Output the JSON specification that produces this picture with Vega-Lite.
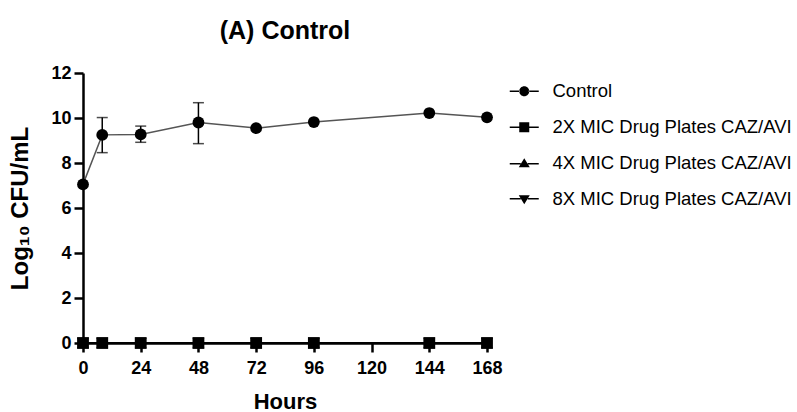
{
  "$schema": "https://vega.github.io/schema/vega-lite/v6.json",
  "width": 404,
  "height": 270,
  "autosize": "none",
  "padding": {"left": 83, "top": 73, "right": 310, "bottom": 69},
  "background": "white",
  "title": {"text": "(A) Control", "fontSize": 25, "fontWeight": "bold", "font": "Liberation Sans", "color": "black", "frame": "group", "baseline": "alphabetic", "offset": 0},
  "config": {
    "view": {"stroke": null},
    "font": "Liberation Sans",
    "axis": {
      "grid": false,
      "domainColor": "black",
      "domainWidth": 2.5,
      "tickColor": "black",
      "tickWidth": 2.5,
      "tickSize": 9,
      "labelFont": "Liberation Sans",
      "labelFontSize": 18,
      "labelFontWeight": "bold",
      "labelColor": "black",
      "labelPadding": 3,
      "titleFont": "Liberation Sans",
      "titleFontSize": 22,
      "titleFontWeight": "bold",
      "titleColor": "black"
    },
    "axisX": {"titlePadding": 14, "labelPadding": 7, "labelFlush": false},
    "axisY": {"titlePadding": 18, "titleFontSize": 24}
  },
  "data": {
    "values": [
      {"series": "8X MIC Drug Plates CAZ/AVI", "hours": 0, "value": 0},
      {"series": "8X MIC Drug Plates CAZ/AVI", "hours": 8, "value": 0},
      {"series": "8X MIC Drug Plates CAZ/AVI", "hours": 24, "value": 0},
      {"series": "8X MIC Drug Plates CAZ/AVI", "hours": 48, "value": 0},
      {"series": "8X MIC Drug Plates CAZ/AVI", "hours": 72, "value": 0},
      {"series": "8X MIC Drug Plates CAZ/AVI", "hours": 96, "value": 0},
      {"series": "8X MIC Drug Plates CAZ/AVI", "hours": 144, "value": 0},
      {"series": "8X MIC Drug Plates CAZ/AVI", "hours": 168, "value": 0},
      {"series": "4X MIC Drug Plates CAZ/AVI", "hours": 0, "value": 0},
      {"series": "4X MIC Drug Plates CAZ/AVI", "hours": 8, "value": 0},
      {"series": "4X MIC Drug Plates CAZ/AVI", "hours": 24, "value": 0},
      {"series": "4X MIC Drug Plates CAZ/AVI", "hours": 48, "value": 0},
      {"series": "4X MIC Drug Plates CAZ/AVI", "hours": 72, "value": 0},
      {"series": "4X MIC Drug Plates CAZ/AVI", "hours": 96, "value": 0},
      {"series": "4X MIC Drug Plates CAZ/AVI", "hours": 144, "value": 0},
      {"series": "4X MIC Drug Plates CAZ/AVI", "hours": 168, "value": 0},
      {"series": "2X MIC Drug Plates CAZ/AVI", "hours": 0, "value": 0},
      {"series": "2X MIC Drug Plates CAZ/AVI", "hours": 8, "value": 0},
      {"series": "2X MIC Drug Plates CAZ/AVI", "hours": 24, "value": 0},
      {"series": "2X MIC Drug Plates CAZ/AVI", "hours": 48, "value": 0},
      {"series": "2X MIC Drug Plates CAZ/AVI", "hours": 72, "value": 0},
      {"series": "2X MIC Drug Plates CAZ/AVI", "hours": 96, "value": 0},
      {"series": "2X MIC Drug Plates CAZ/AVI", "hours": 144, "value": 0},
      {"series": "2X MIC Drug Plates CAZ/AVI", "hours": 168, "value": 0},
      {"series": "Control", "hours": 0, "value": 7.05},
      {"series": "Control", "hours": 8, "value": 9.25, "lo": 8.46, "hi": 10.02},
      {"series": "Control", "hours": 24, "value": 9.27, "lo": 8.92, "hi": 9.64},
      {"series": "Control", "hours": 48, "value": 9.8, "lo": 8.86, "hi": 10.68},
      {"series": "Control", "hours": 72, "value": 9.55},
      {"series": "Control", "hours": 96, "value": 9.82},
      {"series": "Control", "hours": 144, "value": 10.22},
      {"series": "Control", "hours": 168, "value": 10.03}
    ]
  },
  "encoding": {
    "x": {"field": "hours", "type": "quantitative", "title": "Hours", "scale": {"domain": [0, 168], "nice": false}, "axis": {"values": [0, 24, 48, 72, 96, 120, 144, 168]}},
    "y": {"field": "value", "type": "quantitative", "title": "Log₁₀ CFU/mL", "scale": {"domain": [0, 12], "nice": false}, "axis": {"values": [0, 2, 4, 6, 8, 10, 12]}}
  },
  "layer": [
    {
      "transform": [{"filter": "datum.series == 'Control'"}],
      "mark": {"type": "line", "color": "#555555", "strokeWidth": 1.5},
      "encoding": {}
    },
    {
      "transform": [{"filter": "datum.series != 'Control'"}],
      "mark": {"type": "line", "color": "black", "strokeWidth": 2},
      "encoding": {"detail": {"field": "series"}}
    },
    {
      "transform": [{"filter": "datum.hi != null"}],
      "mark": {"type": "errorbar", "ticks": {"size": 11, "thickness": 1.5, "color": "black"}, "rule": {"strokeWidth": 1.5, "color": "black"}},
      "encoding": {
        "y": {"field": "lo", "type": "quantitative", "title": "Log₁₀ CFU/mL"},
        "y2": {"field": "hi"}
      }
    },
    {
      "mark": {"type": "point", "filled": true, "color": "black", "opacity": 1, "size": 140},
      "encoding": {
        "shape": {"field": "series", "type": "nominal", "legend": null,
          "scale": {"domain": ["Control", "2X MIC Drug Plates CAZ/AVI", "4X MIC Drug Plates CAZ/AVI", "8X MIC Drug Plates CAZ/AVI"],
                    "range": ["circle", "square", "triangle-up", "triangle-down"]}}
      }
    },
    {
      "mark": {"type": "point", "filled": true, "color": "black", "opacity": 0, "size": 100},
      "encoding": {
        "shape": {"field": "series", "type": "nominal",
          "scale": {"domain": ["Control", "2X MIC Drug Plates CAZ/AVI", "4X MIC Drug Plates CAZ/AVI", "8X MIC Drug Plates CAZ/AVI"],
                    "range": [
                      "M-1,0A1,1 0 1,0 1,0A1,1 0 1,0 -1,0Z M-2.9,-0.15H-0.9V0.15H-2.9Z M0.9,-0.15H2.9V0.15H0.9Z",
                      "M-1,-1H1V1H-1Z M-2.9,-0.15H-0.95V0.15H-2.9Z M0.95,-0.15H2.9V0.15H0.95Z",
                      "M0,-1L1.1,0.8H-1.1Z M-2.9,-0.05H-0.7V0.25H-2.9Z M0.7,-0.05H2.9V0.25H0.7Z",
                      "M0,1L1.1,-0.8H-1.1Z M-2.9,-0.25H-0.7V0.05H-2.9Z M0.7,-0.25H2.9V0.05H0.7Z"]},
          "legend": {
            "orient": "none", "legendX": 432, "legendY": 9, "title": null, "padding": 0,
            "labelFont": "Liberation Sans", "labelFontSize": 18.5, "labelColor": "black",
            "labelOffset": 19, "rowPadding": 17, "symbolSize": 100,
            "symbolFillColor": "black", "symbolStrokeColor": "black", "symbolStrokeWidth": 0, "symbolOpacity": 1,
            "labelLimit": 400,
            "encode": {"symbols": {"update": {"fill": {"value": "black"}, "opacity": {"value": 1}}}}
          }
        }
      }
    }
  ],
  "resolve": {"scale": {"shape": "independent"}, "legend": {"shape": "independent"}}
}
